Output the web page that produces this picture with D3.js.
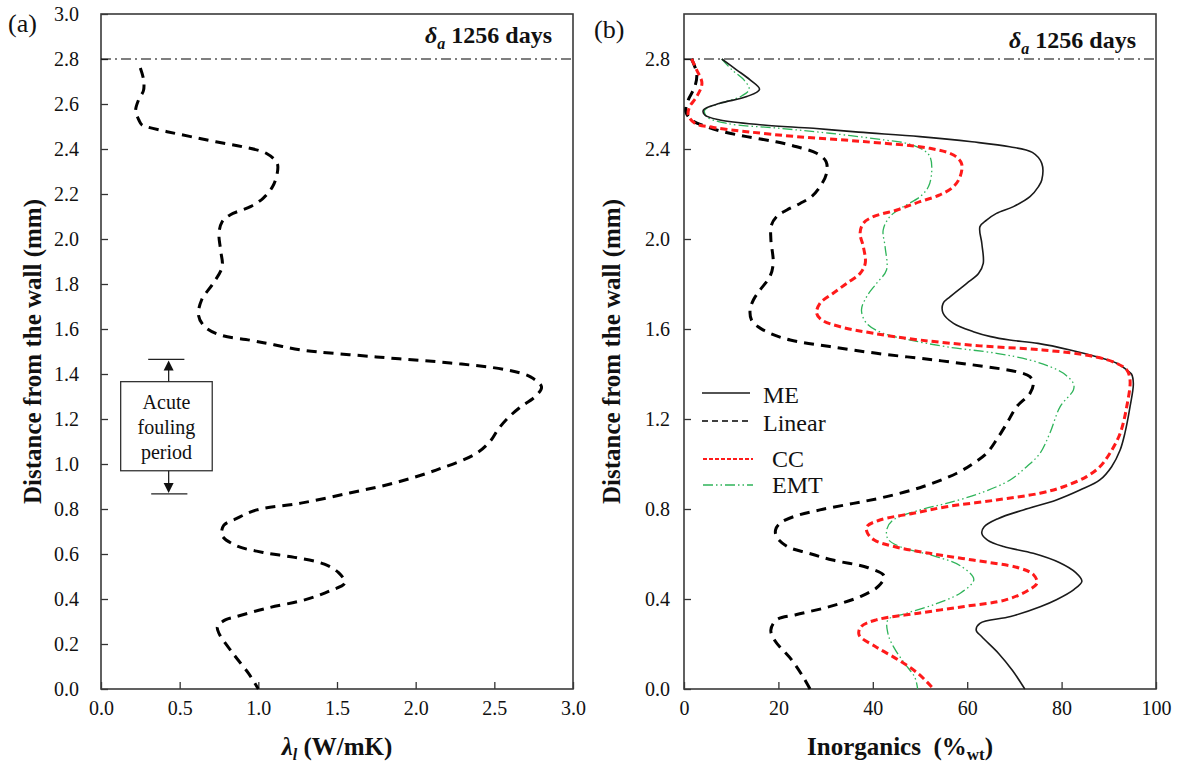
<!DOCTYPE html>
<html>
<head>
<meta charset="utf-8">
<script src="https://cdn.jsdelivr.net/npm/d3@7"></script>
<style>
body { margin: 0; background: #fff; }
svg text { font-family: "Liberation Serif", "Times New Roman", serif; fill: #111; }
</style>
</head>
<body>
<script>
"use strict";

/* Data: [distance from wall (mm), value] */
// (a) thermal conductivity of the deposit layer, W/mK
var lambdaProfile = [
	[2.76,0.25],[2.71,0.27],[2.66,0.27],[2.62,0.24],[2.57,0.22],[2.53,0.24],[2.507,0.26],
	[2.499,0.29],[2.477,0.42],[2.455,0.57],[2.432,0.73],[2.41,0.90],[2.381,1.05],[2.336,1.12],
	[2.292,1.12],[2.232,1.09],[2.181,1.03],[2.144,0.95],[2.107,0.82],[2.077,0.77],[2.025,0.75],
	[1.951,0.76],[1.876,0.77],[1.80,0.71],[1.73,0.64],[1.66,0.62],[1.61,0.66],[1.573,0.76],
	[1.55,0.95],[1.53,1.10],[1.507,1.27],[1.476,1.75],[1.449,2.22],[1.418,2.58],[1.387,2.73],
	[1.342,2.80],[1.30,2.76],[1.25,2.66],[1.20,2.58],[1.15,2.52],[1.107,2.48],[1.049,2.39],
	[0.973,2.13],[0.915,1.86],
	[0.871,1.58],[0.826,1.27],[0.796,0.99],[0.757,0.86],[0.727,0.78],[0.682,0.77],[0.637,0.86],
	[0.607,1.03],[0.585,1.23],[0.555,1.42],[0.517,1.51],[0.472,1.55],[0.435,1.45],[0.397,1.30],
	[0.36,1.06],[0.322,0.86],[0.307,0.79],[0.277,0.74],[0.247,0.75],[0.157,0.84],[0.067,0.94],[0,1.00]
];

// (b) inorganic content, %wt, per model
var meProfile = [
	[2.80,8.0],[2.751,11.2],[2.707,14.0],[2.665,16.0],[2.633,13.3],[2.603,7.6],[2.573,4.1],
	[2.551,4.4],[2.529,7.6],[2.507,16.8],[2.492,27.4],[2.475,37],[2.455,50],[2.432,61],[2.41,69],
	[2.385,73.8],[2.336,75.8],[2.262,75.8],[2.233,75.1],[2.188,73.3],[2.144,69.8],[2.114,66.2],
	[2.084,64.1],[2.055,62.7],[1.98,63.1],[1.892,63.4],[1.847,62.4],[1.803,59.9],[1.744,56.4],
	[1.714,54.9],[1.67,54.9],[1.625,57.1],[1.588,61.3],[1.566,65],[1.551,69],[1.536,75],
	[1.507,81.8],[1.477,87.4],[1.448,91.7],[1.418,93.8],[1.40,94.8],[1.358,95.2],[1.255,94.5],
	[1.136,93.4],[1.062,92.4],[0.988,90.6],[0.929,88.1],[0.884,83.9],[0.84,78.9],[0.796,71.9],
	[0.757,66.5],[0.721,63.6],[0.692,63.1],[0.662,64.3],[0.633,67.7],[0.603,74.0],[0.562,79.5],
	[0.517,83.0],[0.479,84.3],[0.442,82.6],[0.397,78.9],[0.367,75.6],[0.322,69.2],[0.292,62.7],
	[0.262,61.9],[0.232,63.1],[0.157,66.7],[0.082,69.6],[0,72.2]
];
var linearProfile = [
	[2.80,1.6],[2.736,2.7],[2.677,2.3],[2.618,0.9],[2.566,0.4],[2.529,1.6],[2.499,4.8],[2.477,8.3],
	[2.455,13.3],[2.432,19.5],[2.41,23.9],[2.381,28.1],[2.344,30.1],[2.292,30.2],[2.232,28.8],
	[2.188,27.0],[2.158,24.6],[2.129,21.8],[2.099,19.6],[2.06,18.5],[2.0,18.4],[1.892,18.9],
	[1.833,18.2],[1.773,16.1],[1.729,14.7],[1.684,14.0],[1.64,14.3],[1.61,15.7],[1.581,18.2],
	[1.551,22.5],[1.522,30.9],[1.492,40.8],[1.462,53.2],[1.433,63.7],[1.41,70.5],[1.388,73.3],
	[1.358,74.0],[1.314,73.3],[1.255,70.5],[1.181,68.4],[1.107,66.2],[1.047,64.1],[1.003,61.3],
	[0.959,57.8],[0.9,50.7],[0.855,42.9],[0.825,35.9],[0.796,28.8],[0.766,23.2],[0.736,20.3],
	[0.707,19.4],[0.677,19.6],[0.633,21.9],[0.603,26.5],[0.573,31.5],[0.539,39.0],[0.502,42.4],
	[0.457,41.2],[0.412,37.5],[0.367,31.0],[0.33,23.7],[0.307,19.6],[0.262,18.4],[0.217,19.2],
	[0.127,22.9],[0.052,25.3],[0,26.7]
];
var ccProfile = [
	[2.80,1.6],[2.751,2.7],[2.692,3.8],[2.633,2.7],[2.588,1.2],[2.551,0.9],[2.514,2.3],[2.496,6.2],
	[2.477,13.3],[2.455,23.9],[2.433,38],[2.403,52.1],[2.373,57.1],[2.336,58.8],[2.277,58.5],
	[2.233,57.1],[2.196,54.2],[2.166,50.0],[2.129,45.1],[2.099,40.1],[2.07,38.0],[2.025,37.3],
	[1.966,38.0],[1.892,38.4],[1.847,37.3],[1.803,34.5],[1.759,31.6],[1.714,28.8],[1.67,28.1],
	[1.64,29.2],[1.61,33.1],[1.581,40.1],[1.551,50.0],[1.525,62.7],[1.507,76],[1.477,87.0],
	[1.447,91.7],[1.418,93.8],[1.373,94.5],[1.255,93.8],[1.136,92.4],[1.047,90.2],[0.988,88.1],
	[0.944,85.3],[0.899,80.4],[0.87,75.4],[0.84,66.2],[0.81,55.6],[0.781,48.6],[0.751,41.5],
	[0.721,38.7],[0.692,38.9],[0.662,40.3],[0.633,44.5],[0.603,52.0],[0.573,61.2],[0.539,70.8],
	[0.509,74.0],[0.472,74.8],[0.442,73.2],[0.397,68.3],[0.367,59.4],[0.337,49.7],[0.307,40.7],
	[0.277,37.5],[0.24,37.1],[0.187,40.7],[0.127,45.6],[0.067,49.7],[0,52.9]
];
var emtProfile = [
	[2.80,8.0],[2.751,10.2],[2.707,12.7],[2.665,13.8],[2.633,12.0],[2.603,7.6],[2.573,4.4],
	[2.544,4.8],[2.514,9.0],[2.492,20.3],[2.47,30.9],[2.44,42.5],[2.425,47.2],[2.396,50.7],
	[2.366,52.1],[2.307,52.5],[2.233,51.8],[2.188,50.0],[2.144,46.5],[2.099,43.6],[2.04,42.2],
	[1.966,42.6],[1.862,42.9],[1.803,40.8],[1.744,38.7],[1.684,37.6],[1.625,38.7],[1.581,42.2],
	[1.551,47.9],[1.521,55.6],[1.492,66.2],[1.462,73.3],[1.433,77.5],[1.403,80.4],[1.358,82.5],
	[1.329,82.5],[1.255,79.7],[1.136,77.5],[1.047,75.4],[0.988,72.6],[0.929,69.1],[0.87,62.7],
	[0.825,55.6],[0.796,50.0],[0.751,44.3],[0.712,43.0],[0.667,43.2],[0.629,46.2],[0.592,52.9],
	[0.547,58.6],[0.487,61.4],[0.427,58.6],[0.375,52.9],[0.337,47.2],[0.307,43.2],[0.247,43.2],
	[0.187,44.4],[0.112,46.8],[0.052,48.9],[0,49.5]
];

// ticks and markers
var ticksAx = [0, 0.5, 1.0, 1.5, 2.0, 2.5, 3.0];
var ticksAy = [0, 0.2, 0.4, 0.6, 0.8, 1.0, 1.2, 1.4, 1.6, 1.8, 2.0, 2.2, 2.4, 2.6, 2.8, 3.0];
var ticksBx = [0, 20, 40, 60, 80, 100];
var ticksBy = [0, 0.4, 0.8, 1.2, 1.6, 2.0, 2.4, 2.8];
var deltaA = 2.8;	// deposit thickness at 1256 days
var acuteBox = [0.97, 1.366];	// box around the label
var acuteRange = [0.867, 1.465];	// acute fouling period limits

var legendNames = ["ME", "Linear", "CC", "EMT"];

var W = 1182, H = 769;
var plotTop = 14, plotBottom = 689;
var serif = "'Liberation Serif', 'Times New Roman', serif";

var svg = d3.select("body").append("svg")
	.attr("width", W)
	.attr("height", H)
	.attr("font-family", serif);

// set up one panel: frame, axes, scales
function makePanel(left, right, xDomain, xTicks, xFmt, yTicks, yPad) {
	var x = d3.scaleLinear().domain(xDomain).range([left, right]);
	var y = d3.scaleLinear().domain([0, 3]).range([plotBottom, plotTop]);
	var g = svg.append("g");

	var ax = g.append("g")
		.attr("transform", "translate(0," + plotBottom + ")")
		.call(d3.axisBottom(x).tickValues(xTicks).tickSize(-7).tickPadding(12).tickFormat(xFmt));
	var ay = g.append("g")
		.attr("transform", "translate(" + left + ",0)")
		.call(d3.axisLeft(y).tickValues(yTicks).tickSize(-7).tickPadding(yPad).tickFormat(d3.format(".1f")));
	[ax, ay].forEach(function(a) {
		a.attr("font-family", serif);
		a.select(".domain").remove();
		a.selectAll(".tick line").attr("stroke", "#333").attr("stroke-width", 1.3);
		a.selectAll(".tick text").style("font-size", "20px").attr("fill", "#1a1a1a");
	});

	g.append("rect")
		.attr("x", left).attr("y", plotTop)
		.attr("width", right - left).attr("height", plotBottom - plotTop)
		.attr("fill", "none").attr("stroke", "#3a3a3a").attr("stroke-width", 1.6);

	// deposit surface line
	g.append("line")
		.attr("x1", left).attr("x2", right)
		.attr("y1", y(deltaA)).attr("y2", y(deltaA))
		.attr("stroke", "#000").attr("stroke-width", 1.1)
		.attr("stroke-dasharray", "10,4,2,4");

	return {g: g, x: x, y: y, left: left, right: right};
}

function drawProfile(p, data, color, width, dash) {
	var line = d3.line()
		.x(function(d) { return p.x(d[1]); })
		.y(function(d) { return p.y(d[0]); })
		.curve(d3.curveCatmullRom.alpha(0.5));
	p.g.append("path")
		.datum(data)
		.attr("d", line)
		.attr("fill", "none")
		.attr("stroke", color)
		.attr("stroke-width", width)
		.attr("stroke-dasharray", dash);
}

function deltaLabel(p, xRight, yBase) {
	var t = p.g.append("text")
		.attr("x", xRight).attr("y", yBase)
		.attr("text-anchor", "end")
		.style("font-size", "24px").style("font-weight", "bold");
	t.append("tspan").style("font-style", "italic").text("δ");
	t.append("tspan").style("font-style", "italic").style("font-size", "16px").attr("dy", 6).text("a");
	t.append("tspan").attr("dy", -6).text(" 1256 days");
}

function yTitle(xBase) {
	svg.append("text")
		.attr("transform", "translate(" + xBase + "," + (plotTop + plotBottom) / 2 + ") rotate(-90)")
		.attr("text-anchor", "middle")
		.style("font-size", "25px").style("font-weight", "bold")
		.text("Distance from the wall (mm)");
}

/* ---------- panel (a) ---------- */
var pa = makePanel(101, 573, [0, 3], ticksAx, d3.format(".1f"), ticksAy, 22);
drawProfile(pa, lambdaProfile, "#000", 3, "10,7");
deltaLabel(pa, 552, 43);

svg.append("text").attr("x", 8).attr("y", 32).style("font-size", "26px").text("(a)");
yTitle(41);

var xt = svg.append("text")
	.attr("x", (pa.left + pa.right) / 2).attr("y", 755)
	.attr("text-anchor", "middle")
	.style("font-size", "25px").style("font-weight", "bold");
xt.append("tspan").style("font-style", "italic").text("λ");
xt.append("tspan").style("font-style", "italic").style("font-size", "16px").attr("dy", 5).text("l");
xt.append("tspan").attr("dy", -5).text(" (W/mK)");

// acute fouling period marker
var bx0 = pa.x(0.125), bx1 = pa.x(0.707), ax0 = pa.x(0.43);
pa.g.append("rect")
	.attr("x", bx0).attr("y", pa.y(acuteBox[1]))
	.attr("width", bx1 - bx0).attr("height", pa.y(acuteBox[0]) - pa.y(acuteBox[1]))
	.attr("fill", "#fff").attr("stroke", "#333").attr("stroke-width", 1.3);
["Acute", "fouling", "period"].forEach(function(s, i) {
	pa.g.append("text")
		.attr("x", (bx0 + bx1) / 2).attr("y", 409 + i * 25)
		.attr("text-anchor", "middle")
		.style("font-size", "20px")
		.text(s);
});
[[acuteBox[1], acuteRange[1]], [acuteBox[0], acuteRange[0]]].forEach(function(r) {
	var y0 = pa.y(r[0]), y1 = pa.y(r[1]);
	var dir = y1 < y0 ? 1 : -1;
	pa.g.append("line")
		.attr("x1", ax0).attr("x2", ax0).attr("y1", y0).attr("y2", y1 + dir * 8)
		.attr("stroke", "#222").attr("stroke-width", 1.3);
	pa.g.append("path")
		.attr("d", "M" + ax0 + "," + (y1 + dir) + "L" + (ax0 - 5) + "," + (y1 + dir * 11) + "L" + (ax0 + 5) + "," + (y1 + dir * 11) + "Z")
		.attr("fill", "#111");
	pa.g.append("line")
		.attr("x1", pa.x(0.30) + (dir < 0 ? 3 : 0)).attr("x2", pa.x(0.53) + (dir < 0 ? 3 : 0))
		.attr("y1", y1).attr("y2", y1)
		.attr("stroke", "#222").attr("stroke-width", 1.3);
});

/* ---------- panel (b) ---------- */
var pb = makePanel(684, 1156, [0, 100], ticksBx, d3.format("d"), ticksBy, 14);
var styles = {
	ME: {color: "#1a1a1a", width: 1.6, dash: null, legendWidth: 1.6, legendDash: null},
	Linear: {color: "#000", width: 3, dash: "10,7", legendWidth: 1.6, legendDash: "6,4"},
	CC: {color: "#ff1a1a", width: 3, dash: "7,4", legendWidth: 2, legendDash: "4,2"},
	EMT: {color: "#2fb45a", width: 1.3, dash: "10,3,1.5,3,1.5,3", legendWidth: 1.6, legendDash: "10,3,1.5,3,1.5,3"}
};
drawProfile(pb, emtProfile, styles.EMT.color, styles.EMT.width, styles.EMT.dash);
drawProfile(pb, meProfile, styles.ME.color, styles.ME.width, styles.ME.dash);
drawProfile(pb, linearProfile, styles.Linear.color, styles.Linear.width, styles.Linear.dash);
drawProfile(pb, ccProfile, styles.CC.color, styles.CC.width, styles.CC.dash);
deltaLabel(pb, 1136, 48);

svg.append("text").attr("x", 594).attr("y", 38).style("font-size", "26px").text("(b)");
yTitle(620);

var xt2 = svg.append("text")
	.attr("x", 807).attr("y", 755)
	.style("font-size", "25px").style("font-weight", "bold");
xt2.append("tspan").text("Inorganics\u00a0\u00a0(%");
xt2.append("tspan").style("font-size", "17px").attr("dy", 5).text("wt");
xt2.append("tspan").attr("dy", -5).text(")");

// legend
var legY = [393, 421, 459, 485];
var legTextX = [763, 763, 772, 772];
legendNames.forEach(function(name, i) {
	var s = styles[name];
	pb.g.append("line")
		.attr("x1", i < 2 ? 702 : 703).attr("x2", i < 2 ? 750 : 753)
		.attr("y1", legY[i]).attr("y2", legY[i])
		.attr("stroke", s.color).attr("stroke-width", s.legendWidth)
		.attr("stroke-dasharray", s.legendDash);
	pb.g.append("text")
		.attr("x", legTextX[i]).attr("y", legY[i] + (i < 2 ? 10 : 8))
		.style("font-size", "24px")
		.text(name);
});
</script>
</body>
</html>
